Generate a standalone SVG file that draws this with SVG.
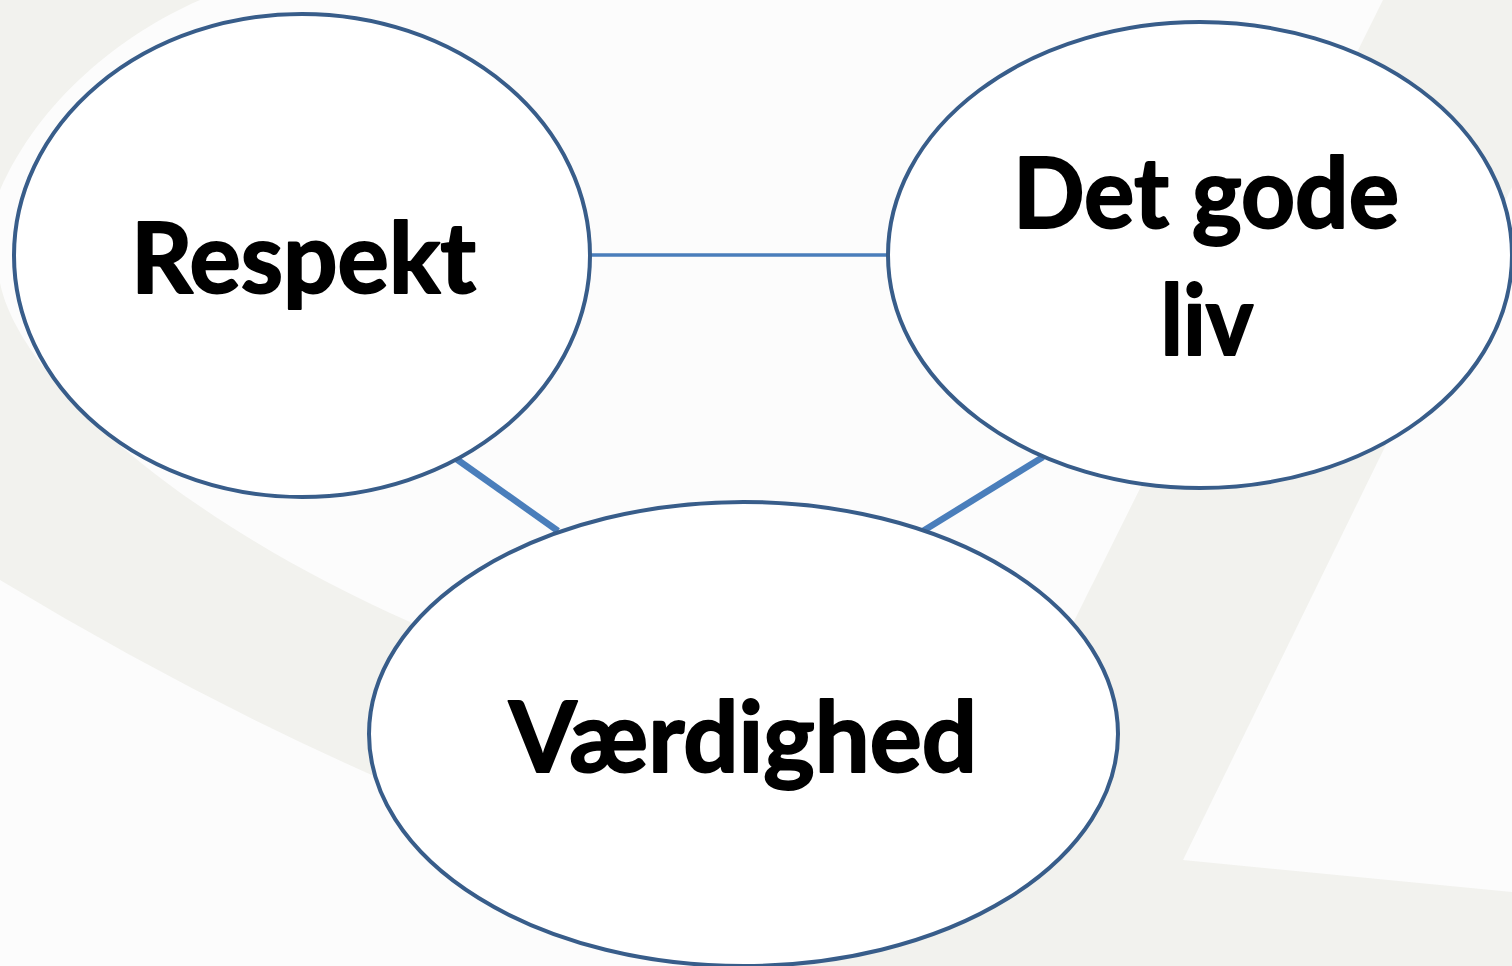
<svg xmlns="http://www.w3.org/2000/svg" width="1512" height="966" viewBox="0 0 1512 966">
  <style>
    .bg { fill: #f2f2ee; }
    .band { fill: #fcfcfc; }
    .node { fill: #ffffff; stroke: #385d8a; stroke-width: 4; }
    .label { font-family: Lato, "Open Sans", "Liberation Sans", sans-serif; font-weight: 700; font-size: 98px; fill: #000000; stroke: #000000; stroke-width: 2; stroke-linejoin: round; text-anchor: middle; }
    .conn { stroke: #4a7ebb; fill: none; stroke-linecap: butt; }
  </style>
  <g id="background">
    <rect class="bg" x="0" y="0" width="1512" height="966"/>
    <path class="band" d="M200,0 L1383,0 L1000,770 L700,800 L410,622 C180,520 20,380 0,283 C-8,250 -8,220 0,190 C40,100 120,35 200,0 Z"/>
    <path class="band" d="M0,580 Q190,695 383,780 L760,1000 L0,1000 Z"/>
    <polygon class="band" points="1512,187 1183,860 1512,892"/>
  </g>
  <g id="connectors">
    <line class="conn" x1="590" y1="255" x2="887" y2="255" stroke-width="3.5"/>
    <line class="conn" x1="455" y1="458" x2="558" y2="531" stroke-width="6.5"/>
    <line class="conn" x1="1043" y1="457" x2="923" y2="531" stroke-width="6.5"/>
  </g>
  <g id="node-respekt">
    <ellipse class="node" cx="302" cy="255.5" rx="288" ry="241.5"/>
    <text class="label" x="303.5" y="293" textLength="345" lengthAdjust="spacingAndGlyphs">Respekt</text>
  </g>
  <g id="node-det-gode-liv">
    <ellipse class="node" cx="1200" cy="255" rx="312" ry="233"/>
    <text class="label" x="1206" y="228" textLength="386" lengthAdjust="spacingAndGlyphs">Det gode</text>
    <text class="label" x="1207" y="355" textLength="93" lengthAdjust="spacingAndGlyphs">liv</text>
  </g>
  <g id="node-vaerdighed">
    <ellipse class="node" cx="743.5" cy="734" rx="374.5" ry="232"/>
    <text class="label" x="743" y="772" textLength="468" lengthAdjust="spacingAndGlyphs">Værdighed</text>
  </g>
</svg>
